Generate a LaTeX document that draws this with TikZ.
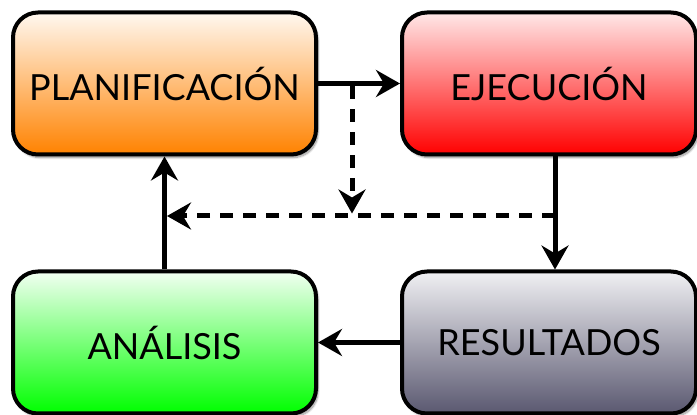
\documentclass[tikz,border=0pt]{standalone}
\usepackage{fontspec}
\setmainfont{Lato}
\usepackage{tikz}
\usetikzlibrary{arrows.meta}
\usetikzlibrary{shadows.blur}
\usepackage{xcolor}
\definecolor{naranja}{HTML}{FF8200}
\definecolor{naranjaclaro}{HTML}{FFF8F0}
\definecolor{rojo}{HTML}{FF0000}
\definecolor{rojoclaro}{HTML}{FFE8E8}
\definecolor{verde}{HTML}{00FF00}
\definecolor{verdeclaro}{HTML}{F2FFF2}
\definecolor{gris}{HTML}{5A5870}
\definecolor{grisclaro}{HTML}{F0F0F3}

\begin{document}
\begin{tikzpicture}[x=1pt,y=1pt,
  caja/.style={draw=black, line width=4pt, rounded corners=25pt,
    minimum height=142pt, font=\fontsize{36}{40}\selectfont,
    blur shadow={shadow xshift=2pt, shadow yshift=-3pt, shadow blur steps=10, shadow opacity=45}},
  flecha/.style={line width=5pt, -{Stealth[length=24pt,width=27pt,inset=8pt]}},
  discont/.style={flecha, dash pattern=on 13pt off 10pt}]
\useasboundingbox (0,0) rectangle (697,415);
\node[caja, minimum width=303pt, top color=naranjaclaro, bottom color=naranja] (plan) at (164.5,331.5) {PLANIFICACIÓN};
\node[caja, minimum width=294pt, top color=rojoclaro, bottom color=rojo] (ejec) at (549,331.5) {EJECUCIÓN};
\node[caja, minimum width=303pt, top color=verdeclaro, bottom color=verde] (anal) at (164.5,72.5) {ANÁLISIS};
\node[caja, minimum width=294pt, top color=grisclaro, bottom color=gris] (res) at (549,72.5) {RESULTADOS};
% flechas
\draw[flecha] (plan) -- (ejec);
\draw[flecha] ([xshift=6pt]ejec.south) -- ([xshift=6pt]res.north);
\draw[flecha] (res) -- (anal);
\draw[flecha] (anal) -- (plan);
% retroalimentacion
\coordinate (d1) at (555,199);
\coordinate (d2) at (352,331.5);
\draw[discont, shorten >=2.5pt] (d1) -- (anal.north |- d1);
\draw[discont, shorten <=3pt, shorten >=2.5pt] (d2) -- (d2 |- d1);
\end{tikzpicture}
\end{document}
